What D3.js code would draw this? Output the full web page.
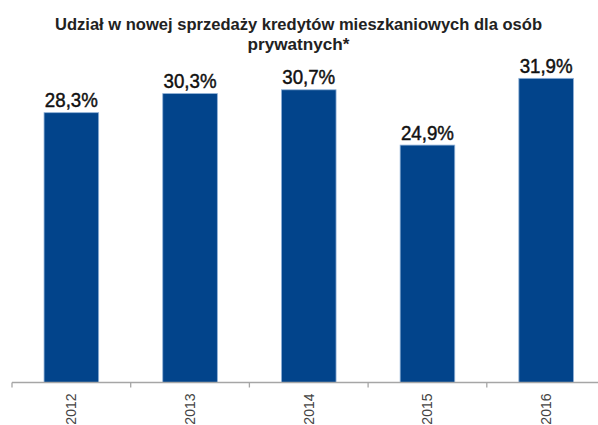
<!DOCTYPE html>
<html><head><meta charset="utf-8">
<script src="https://cdn.jsdelivr.net/npm/d3@7"></script>
<style>html,body{margin:0;padding:0;background:#fff;overflow:hidden}</style>
</head><body>
<svg id="c" width="598" height="425"></svg>
<script>
const categories = ["2012","2013","2014","2015","2016"];
const values = [28.3, 30.3, 30.7, 24.9, 31.9];
const labels = ["28,3%","30,3%","30,7%","24,9%","31,9%"];
const titleLines = ["Udział w nowej sprzedaży kredytów mieszkaniowych dla osób","prywatnych*"];

const svg = d3.select("#c");
const x = d3.scaleBand().domain(categories).range([12, 605.5]).paddingInner(0.54).paddingOuter(0.27);
const y = d3.scaleLinear().domain([0, 35]).range([382.5, 48.8]);

svg.selectAll("rect.bar").data(values).join("rect")
  .attr("class","bar")
  .attr("x",(d,i)=>x(categories[i]))
  .attr("width",x.bandwidth())
  .attr("y",d=>y(d))
  .attr("height",d=>y(0)-y(d))
  .attr("fill","#02448b")
  .attr("stroke","#8fb0d6").attr("stroke-width",0.8);

// axis
const step = x.step();
const ax = svg.append("g").attr("transform",`translate(0,${y(0)})`);
ax.append("line").attr("x1",12).attr("x2",606).attr("y1",0).attr("y2",0).attr("stroke","#a6a6a6").attr("stroke-width",1.3);
const tickPos = d3.range(categories.length+1).map(i=>12+i*step);
ax.selectAll("line.t").data(tickPos).join("line").attr("class","t")
  .attr("x1",d=>d).attr("x2",d=>d).attr("y1",0).attr("y2",5)
  .attr("stroke","#a6a6a6").attr("stroke-width",1.3);
ax.selectAll("text").data(categories).join("text")
  .attr("transform",d=>`translate(${x(d)+x.bandwidth()/2+5},11) rotate(-90)`)
  .attr("text-anchor","end")
  .attr("font-family","Liberation Sans, Arial, sans-serif")
  .attr("font-size",14).attr("fill","#444")
  .text(d=>d);

// value labels
svg.selectAll("text.v").data(values).join("text").attr("class","v")
  .attr("x",(d,i)=>x(categories[i])+x.bandwidth()/2)
  .attr("y",d=>y(d)-5.5)
  .attr("text-anchor","middle")
  .attr("font-family","Liberation Sans, Arial, sans-serif")
  .attr("font-size",20).attr("fill","#111")
  .attr("stroke","#111").attr("stroke-width",0.45)
  .attr("textLength",53).attr("lengthAdjust","spacingAndGlyphs")
  .text((d,i)=>labels[i]);

// title
const tLens = [487, 102];
svg.selectAll("text.title").data(titleLines).join("text").attr("class","title")
  .attr("x",298.5).attr("y",(d,i)=>30+i*20)
  .attr("text-anchor","middle")
  .attr("font-family","Liberation Sans, Arial, sans-serif")
  .attr("font-weight","bold").attr("font-size",16.5).attr("fill","#222")
  .attr("textLength",(d,i)=>tLens[i]).attr("lengthAdjust","spacingAndGlyphs")
  .text(d=>d);
</script>
</body></html>
